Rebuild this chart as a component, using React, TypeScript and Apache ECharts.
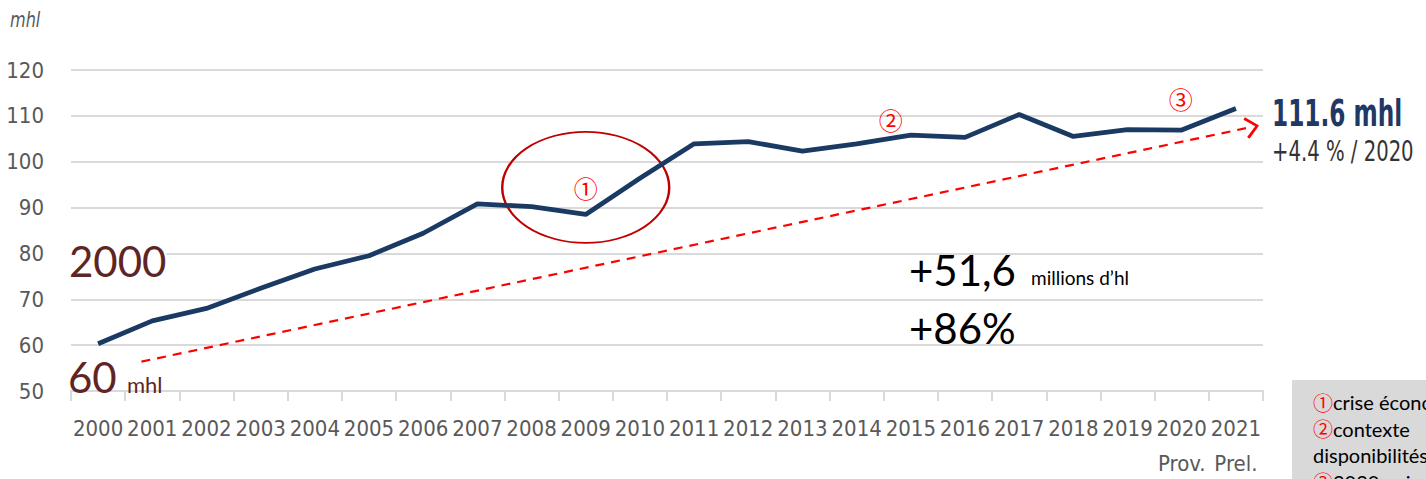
import React, { useEffect, useRef } from "react";
import * as echarts from "echarts";

const categories = ["2000", "2001", "2002", "2003", "2004", "2005", "2006", "2007", "2008", "2009", "2010", "2011", "2012", "2013", "2014", "2015", "2016", "2017", "2018", "2019", "2020", "2021"];
const categoryNotes: Record<string, string> = { "2020": "Prov.", "2021": "Prel." };
const production = [60.3, 65.3, 68.0, 72.4, 76.6, 79.5, 84.4, 90.8, 90.2, 88.5, 96.4, 103.9, 104.4, 102.3, 103.9, 105.8, 105.3, 110.3, 105.5, 107.0, 106.9, 111.6];
const trendStart = [0.8, 56.4];
const trendEnd = [21.3, 107.6];
const crisisEllipseCenter = [9.0, 94.4];
const notePoints = [
  { label: "①", at: [9.0, 94.4] },
  { label: "②", at: [14.63, 109.1] },
  { label: "③", at: [19.98, 113.8] },
];
const yMin = 50;
const yMax = 120;
const yStep = 10;

const NARROW = "'DejaVu Sans Condensed', 'Liberation Sans Narrow', sans-serif";
const HUMAN = "Lato, 'Open Sans', sans-serif";
const CJK = "'Noto Sans CJK JP', 'DejaVu Sans', sans-serif";

const ellipsePath = "path://M0,50 A50,50 0 1,1 100,50 A50,50 0 1,1 0,50 Z";
const chevronPath = "path://M0,10 L9,0 L18,10 L16.2,11.6 L9,3.2 L1.8,11.6 Z";

export default function App() {
  const ref = useRef<HTMLDivElement>(null);
  useEffect(() => {
    if (!ref.current) return;
    const chart = echarts.init(ref.current, undefined, { renderer: "svg" });
    const option: any = {
      animation: false,
      backgroundColor: "#ffffff",
      grid: { left: 71, right: 163, top: 70, bottom: 88, containLabel: false, outerBoundsMode: "none" },
      xAxis: [
        {
          type: "category",
          data: categories,
          boundaryGap: true,
          axisLine: { lineStyle: { color: "#d9d9d9", width: 2 } },
          axisTick: { show: true, length: 10, lineStyle: { color: "#d9d9d9", width: 2 } },
          axisLabel: {
            color: "#595959",
            fontFamily: NARROW,
            fontSize: 22,
            lineHeight: 35,
            margin: 20,
            interval: 0,
            formatter: (v: string) => (categoryNotes[v] ? v + "\n" + categoryNotes[v] : v),
          },
          splitLine: { show: false },
        },
        {
          type: "value",
          min: -0.5,
          max: categories.length - 0.5,
          show: false,
          splitLine: { show: false },
        },
      ],
      yAxis: {
        type: "value",
        min: yMin,
        max: yMax,
        interval: yStep,
        axisLine: { show: false },
        axisTick: { show: false },
        axisLabel: { color: "#595959", fontFamily: NARROW, fontSize: 22, margin: 27, padding: [0, 0, 4, 0] },
        splitLine: { lineStyle: { color: "#d9d9d9", width: 2 } },
      },
      series: [
        {
          type: "line",
          name: "Production",
          data: production,
          xAxisIndex: 0,
          symbol: "none",
          lineStyle: { color: "#1a3a63", width: 4.8 },
          z: 5,
        },
        {
          type: "line",
          name: "annotations",
          xAxisIndex: 1,
          data: [],
          symbol: "none",
          silent: true,
          z: 4,
          markLine: {
            silent: true,
            animation: false,
            label: { show: false },
            lineStyle: { color: "#ff0000", width: 2.2, type: [9, 7] },
            data: [
              [
                { coord: trendStart, symbol: "none" },
                { coord: trendEnd, symbol: chevronPath, symbolSize: [22, 14] },
              ],
            ],
          },
          markPoint: {
            silent: true,
            animation: false,
            data: [
              {
                coord: crisisEllipseCenter,
                symbol: ellipsePath,
                symbolSize: [167, 111],
                itemStyle: { color: "none", borderColor: "#c00000", borderWidth: 2 },
                label: { show: false },
              },
              ...notePoints.map((p) => ({
                coord: p.at,
                symbol: "circle",
                symbolSize: 1,
                itemStyle: { color: "transparent" },
                label: {
                  show: true,
                  position: "inside",
                  formatter: p.label,
                  color: "#ff0000",
                  fontSize: 24,
                  fontFamily: CJK,
                },
              })),
            ],
          },
        },
      ],
      graphic: [
        {
          type: "text",
          x: 10,
          y: 20,
          scaleX: 0.85,
          style: { text: "mhl", fill: "#595959", fontFamily: NARROW, fontStyle: "italic", fontSize: 21, verticalAlign: "middle", align: "left" },
        },
        {
          type: "text",
          x: 69,
          y: 261,
          z: 10,
          style: { text: "2000", fill: "#5f2525", fontFamily: HUMAN, fontSize: 42, verticalAlign: "middle", align: "left", backgroundColor: "#ffffff", lineHeight: 34 },
        },
        {
          type: "text",
          x: 68,
          y: 377,
          z: 10,
          style: { text: "60", fill: "#5f2525", fontFamily: HUMAN, fontSize: 42, verticalAlign: "middle", align: "left" },
        },
        {
          type: "text",
          x: 127,
          y: 384,
          z: 10,
          style: { text: "mhl", fill: "#5f2525", fontFamily: HUMAN, fontSize: 22, verticalAlign: "middle", align: "left" },
        },
        {
          type: "text",
          x: 909,
          y: 270,
          style: { text: "+51,6", fill: "#000000", fontFamily: HUMAN, fontSize: 42, verticalAlign: "middle", align: "left" },
        },
        {
          type: "text",
          x: 1031,
          y: 277,
          style: { text: "millions d’hl", fill: "#000000", fontFamily: HUMAN, fontSize: 19, verticalAlign: "middle", align: "left" },
        },
        {
          type: "text",
          x: 909,
          y: 328,
          style: { text: "+86%", fill: "#000000", fontFamily: HUMAN, fontSize: 42, verticalAlign: "middle", align: "left" },
        },
        {
          type: "text",
          x: 1272,
          y: 113,
          scaleX: 0.68,
          style: { text: "111.6 mhl", fill: "#1f3864", fontFamily: NARROW, fontWeight: "bold", fontSize: 38, verticalAlign: "middle", align: "left" },
        },
        {
          type: "text",
          x: 1272,
          y: 152,
          scaleX: 0.78,
          style: { text: "+4.4 % / 2020", fill: "#333333", fontFamily: NARROW, fontSize: 28, verticalAlign: "middle", align: "left" },
        },
        {
          type: "rect",
          shape: { x: 1292, y: 380, width: 140, height: 105 },
          style: { fill: "#d9d9d9" },
          z: 1,
        },
        {
          type: "text",
          x: 1313,
          y: 389,
          z: 2,
          style: {
            text: "{r|①}crise économique\n{r|②}contexte\ndisponibilités\n{r|③}2020, crise sanitaire",
            fill: "#000000",
            fontFamily: HUMAN,
            fontSize: 20,
            lineHeight: 26.5,
            verticalAlign: "top",
            align: "left",
            rich: {
              r: { fill: "#ff0000", color: "#ff0000", fontFamily: CJK, fontSize: 20, lineHeight: 26.5 },
            },
          },
        },
      ],
    };
    chart.setOption(option);
    return () => chart.dispose();
  }, []);
  return <div ref={ref} style={{ position: "fixed", left: 0, top: 0, width: 1426, height: 479 }} />;
}
